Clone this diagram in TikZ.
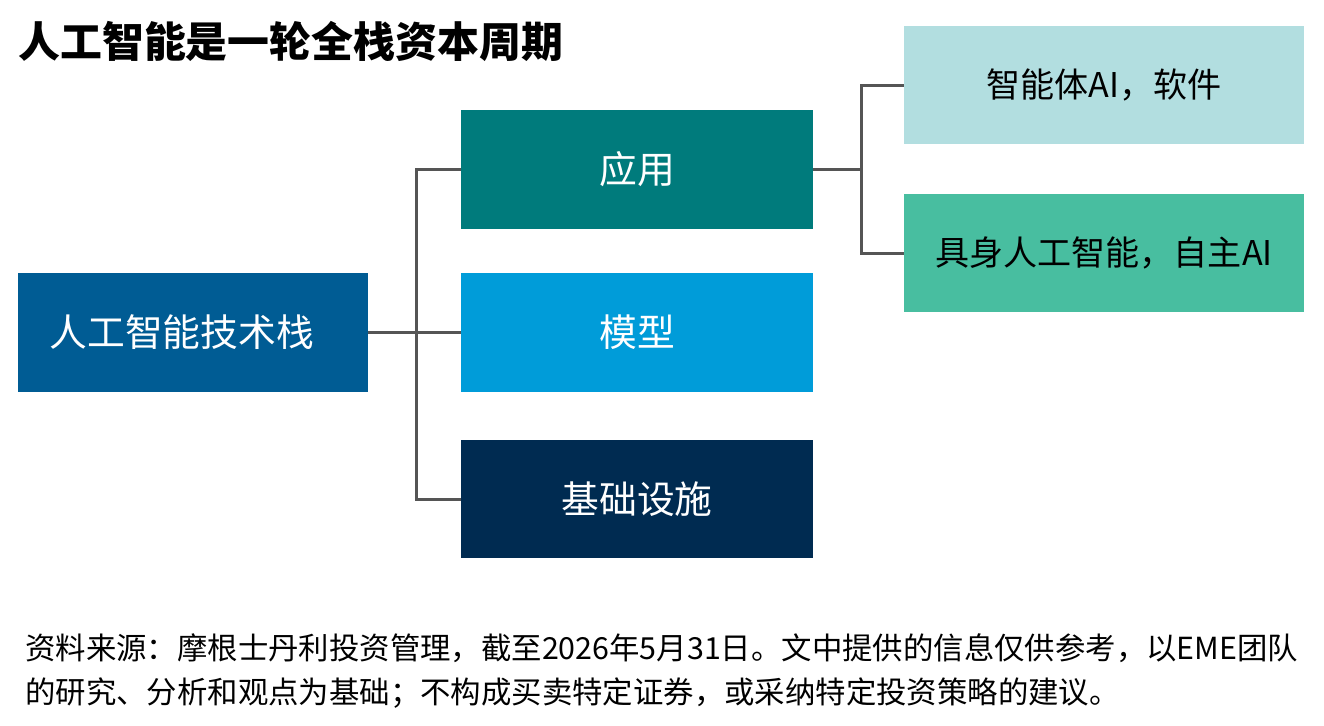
\documentclass[tikz,border=0pt]{standalone}
\usepackage{fontspec}
\setmainfont{Noto Sans CJK SC}
\usepackage{tikz}
\usetikzlibrary{positioning, calc}

\definecolor{stackblue}{HTML}{005C94}
\definecolor{appteal}{HTML}{007B7C}
\definecolor{modelblue}{HTML}{009CD9}
\definecolor{infranavy}{HTML}{002B51}
\definecolor{agentpale}{HTML}{B2DEE0}
\definecolor{embodgreen}{HTML}{48BEA0}
\definecolor{linkgray}{HTML}{555555}

\tikzset{
	layerbox/.style={rectangle, text centered, minimum width=7.04cm, minimum height=2.38cm,
		text=white, font=\fontsize{21.5}{25}\selectfont},
	usebox/.style={rectangle, text centered, minimum width=8cm, minimum height=2.36cm,
		text=black, font=\fontsize{19.4}{23}\selectfont},
	link/.style={draw=linkgray, line width=1.7pt}
}

\begin{document}
\begin{tikzpicture}[x=0.02cm, y=-0.02cm]
			
			\useasboundingbox (0,0) rectangle (1324,725);
			
			%Nodes
			\node (title) at (18,41) [anchor=west, inner sep=0pt, font=\fontsize{23.85}{28}\selectfont\bfseries]{人工智能是一轮全栈资本周期};
			
			\node (stack) at (193,332.5) [layerbox, fill=stackblue, minimum width=7cm]{\hspace*{-0.45cm}人工智能技术栈};
			
			\node (app) at (637,169.5) [layerbox, fill=appteal]{应用};
			
			\node (model) at (637,332.5) [layerbox, fill=modelblue]{模型};
			
			\node (infra) at (637,499) [layerbox, fill=infranavy, minimum height=2.36cm]{基础设施};
			
			\node (agent) at (1104,85) [usebox, fill=agentpale]{智能体AI，软件};
			
			\node (embodied) at (1104,253) [usebox, fill=embodgreen]{具身人工智能，自主AI};
			
			\node (source) at (25,671) [anchor=west, inner sep=0pt, align=left, 
			font=\fontsize{17.3}{25.5}\selectfont]{资料来源：摩根士丹利投资管理，截至2026年5月31日。文中提供的信息仅供参考，以EME团队\\的研究、分析和观点为基础；不构成买卖特定证券，或采纳特定投资策略的建议。};
			
			%Links
			\coordinate (split) at (416,332.5);
			\coordinate (fork) at (861,169.5);
			\draw[link] (stack.east) -- (split);
			\draw[link] (split) -- (model.west);
			\draw[link] (split) |- (app.west);
			\draw[link] (split) |- (infra.west);
			\draw[link] (app.east) -- (fork);
			\draw[link] (fork) |- (agent.west);
			\draw[link] (fork) |- (embodied.west);
			
			\end{tikzpicture}
\end{document}
